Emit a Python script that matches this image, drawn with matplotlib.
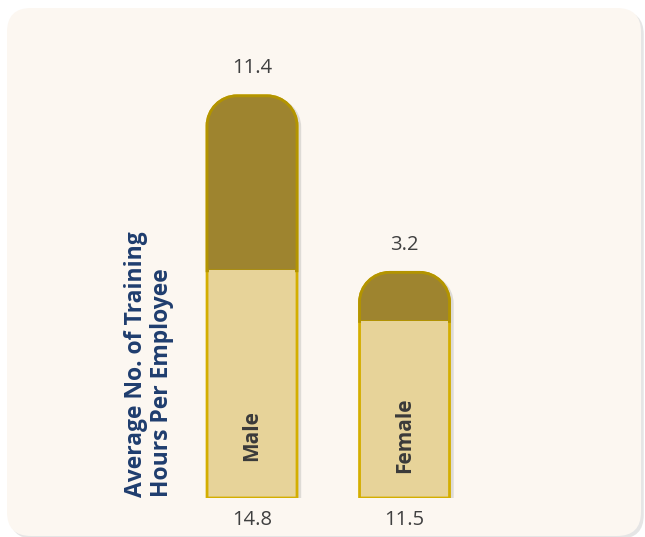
import matplotlib.pyplot as plt
import matplotlib.patheffects as pe
from matplotlib.patches import FancyBboxPatch, PathPatch, Rectangle
from matplotlib.path import Path

plt.rcParams['font.family'] = ['Open Sans', 'DejaVu Sans']

# data
categories = ["Male", "Female"]
bottom_vals = [14.8, 11.5]
top_vals = [11.4, 3.2]
ylabel = "Average No. of Training\nHours Per Employee"

W, H = 645, 537
fig = plt.figure(figsize=(W / 100, H / 100), dpi=100)
fig.patch.set_facecolor("white")

# card background
bg = fig.add_axes([0, 0, 1, 1])
bg.set_xlim(0, W)
bg.set_ylim(H, 0)
bg.axis("off")
card = FancyBboxPatch((7, 8), 634, 528, boxstyle="round,pad=0,rounding_size=24",
                      fc="#fcf7f1", ec="none",
                      path_effects=[pe.SimplePatchShadow(offset=(2, -2), shadow_rgbFace="#999999", alpha=0.25),
                                    pe.Normal()])
bg.add_patch(card)

# main axes
ax_w, ax_h = 350, 460.5
ax = fig.add_axes([150 / W, (H - 498) / H, ax_w / W, ax_h / H])
ax.set_xlim(-0.669, 1.626)
ax.set_ylim(0, 30)
ax.axis("off")

bar_w = 0.59
r_px = 30
rx = r_px * (ax.get_xlim()[1] - ax.get_xlim()[0]) / ax_w
ry_full = r_px * 30 / ax_h


def rounded_top(x0, y0, w, h):
    ry = min(ry_full, h)
    k = 0.5523
    x1 = x0 + w
    y1 = y0 + h
    verts = [
        (x0, y0), (x0, y1 - ry),
        (x0, y1 - ry + k * ry), (x0 + rx - k * rx, y1), (x0 + rx, y1),
        (x1 - rx, y1),
        (x1 - rx + k * rx, y1), (x1, y1 - ry + k * ry), (x1, y1 - ry),
        (x1, y0), (x0, y0),
    ]
    codes = [Path.MOVETO, Path.LINETO,
             Path.CURVE4, Path.CURVE4, Path.CURVE4,
             Path.LINETO,
             Path.CURVE4, Path.CURVE4, Path.CURVE4,
             Path.LINETO, Path.CLOSEPOLY]
    return Path(verts, codes)


shadow = [pe.SimplePatchShadow(offset=(3, -1), shadow_rgbFace="#888888", alpha=0.25), pe.Normal()]

for i, cat in enumerate(categories):
    b = bottom_vals[i]
    t = top_vals[i]
    x0 = i - bar_w / 2
    # full outline with shadow
    ax.add_patch(PathPatch(rounded_top(x0, 0, bar_w, b + t), fc="#e7d399", ec="#d4ae00",
                           lw=2, path_effects=shadow, zorder=2))
    # dark top segment
    ax.add_patch(PathPatch(rounded_top(x0, b, bar_w, t), fc="#9e842f", ec="#b39400",
                           lw=2, zorder=3))
    # cover the line between segments
    ax.add_patch(Rectangle((x0 + 0.012, b - 0.3), bar_w - 0.024, 0.35, fc="#e7d399",
                           ec="none", zorder=3))

    ax.annotate(f"{t}", (i, b + t), xytext=(0, 20), textcoords="offset points",
                ha="center", va="center", fontsize=14.5, color="#404040")
    ax.annotate(f"{b}", (i, 0), xytext=(0, -16), textcoords="offset points",
                ha="center", va="center", fontsize=14.5, color="#404040")
    ax.text(i, 4.1, cat, rotation=90, ha="center", va="center", fontsize=15,
            fontweight="bold", color="#3a3a3a", zorder=4)

fig.text(149 / W, (H - 497) / H, ylabel, rotation=90, ha="center", va="bottom",
         multialignment="left", fontsize=16.5, fontweight="bold", color="#1f3d6e",
         linespacing=1.1)

fig.savefig("out.png", dpi=100)
plt.close()
